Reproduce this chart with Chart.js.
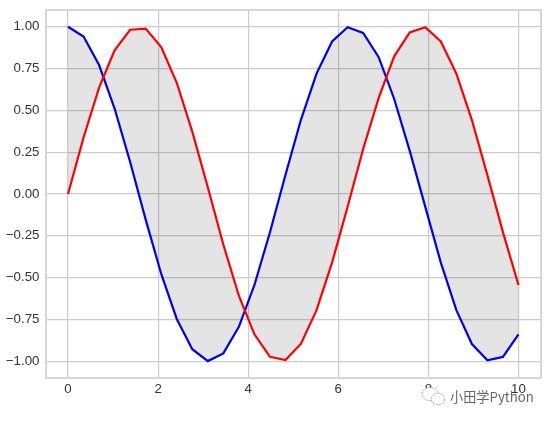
<!DOCTYPE html>
<html><head><meta charset="utf-8">
<script src="https://cdn.jsdelivr.net/npm/chart.js@4"></script>
<style>
html,body{margin:0;padding:0;background:#fff;width:551px;height:421px;overflow:hidden}
#wrap{position:relative;width:551px;height:421px}
canvas{position:absolute;left:0;top:0}
#wm{position:absolute;left:450px;top:388px;font:13.2px "Noto Sans CJK SC","Liberation Sans",sans-serif;color:#666;line-height:18px;white-space:nowrap}
#ic{position:absolute;left:420px;top:385px}
</style></head><body>
<div id="wrap"><canvas id="c" width="551" height="421"></canvas>
<svg id="ic" width="27" height="22" viewBox="0 0 27 22"><g fill="#fff" stroke="#9a9a9a" stroke-width="0.9" stroke-dasharray="2 1.2"><ellipse cx="10" cy="9" rx="8" ry="6.5"/><ellipse cx="18" cy="14" rx="6.8" ry="5.8"/></g></svg>
<div id="wm">小田学Python</div></div>
<script>
const xValues=[0,0.345,0.69,1.034,1.379,1.724,2.069,2.414,2.759,3.103,3.448,3.793,4.138,4.483,4.828,5.172,5.517,5.862,6.207,6.552,6.897,7.241,7.586,7.931,8.276,8.621,8.966,9.31,9.655,10];
const redValues=[0,0.338,0.636,0.859,0.982,0.989,0.878,0.665,0.373,0.04,-0.302,-0.608,-0.839,-0.973,-0.993,-0.895,-0.694,-0.41,-0.076,0.269,0.575,0.823,0.966,0.997,0.912,0.72,0.442,0.113,-0.228,-0.544];
const blueValues=[1,0.941,0.771,0.511,0.191,-0.153,-0.478,-0.747,-0.928,-0.999,-0.953,-0.794,-0.544,-0.229,0.115,0.445,0.72,0.912,0.997,0.963,0.818,0.568,0.258,-0.077,-0.41,-0.694,-0.897,-0.994,-0.974,-0.839];
const xTicks=[0,2,4,6,8,10];
const yTicks=[-1,-0.75,-0.5,-0.25,0,0.25,0.5,0.75,1];
const pts=a=>a.map((y,i)=>({x:xValues[i],y}));
const fmt=v=>(v<0?'\u2212':'')+Math.abs(v).toFixed(2);
const gridC='#cccccc',txt='#333333',font={family:'"Liberation Sans",Arial,sans-serif',size:13.3};
new Chart(document.getElementById('c'),{
 type:'line',
 data:{datasets:[
  {data:pts(redValues),borderColor:'#ff0000',borderWidth:2.2,pointRadius:0,tension:0,
   fill:{target:1,above:'rgba(0,0,0,0.105)',below:'rgba(0,0,0,0.105)'}},
  {data:pts(blueValues),borderColor:'#0000ff',borderWidth:2.2,pointRadius:0,tension:0,fill:false}
 ]},
 options:{responsive:false,animation:false,devicePixelRatio:1,
  layout:{padding:{top:10,right:10,bottom:0,left:0}},
  plugins:{legend:{display:false},tooltip:{enabled:false}},
  scales:{
   x:{type:'linear',min:-0.5,max:10.5,
    afterBuildTicks:s=>{s.ticks=xTicks.map(value=>({value}))},
    afterFit:s=>{s.height=43;s.paddingLeft=0;s.paddingRight=0},
    grid:{color:gridC,lineWidth:1.2,drawTicks:false},
    border:{color:'#d6d6d6',width:2},
    ticks:{color:txt,font,maxRotation:0,padding:3,callback:v=>String(v)}},
   y:{min:-1.1,max:1.1,
    afterBuildTicks:s=>{s.ticks=yTicks.map(value=>({value}))},
    afterFit:s=>{s.width=45.5;s.paddingTop=0;s.paddingBottom=0},
    grid:{color:gridC,lineWidth:1.2,drawTicks:false},
    border:{color:'#d6d6d6',width:2},
    ticks:{color:txt,font,padding:6,callback:fmt}}
  }
 },
 plugins:[{id:'frame',
  afterDraw(c){const a=c.chartArea,x=c.ctx;x.save();x.strokeStyle='#d6d6d6';x.lineWidth=2;
   x.beginPath();x.moveTo(a.left,a.top);x.lineTo(a.right,a.top);x.lineTo(a.right,a.bottom);x.stroke();x.restore();}
 }]
});
</script></body></html>
